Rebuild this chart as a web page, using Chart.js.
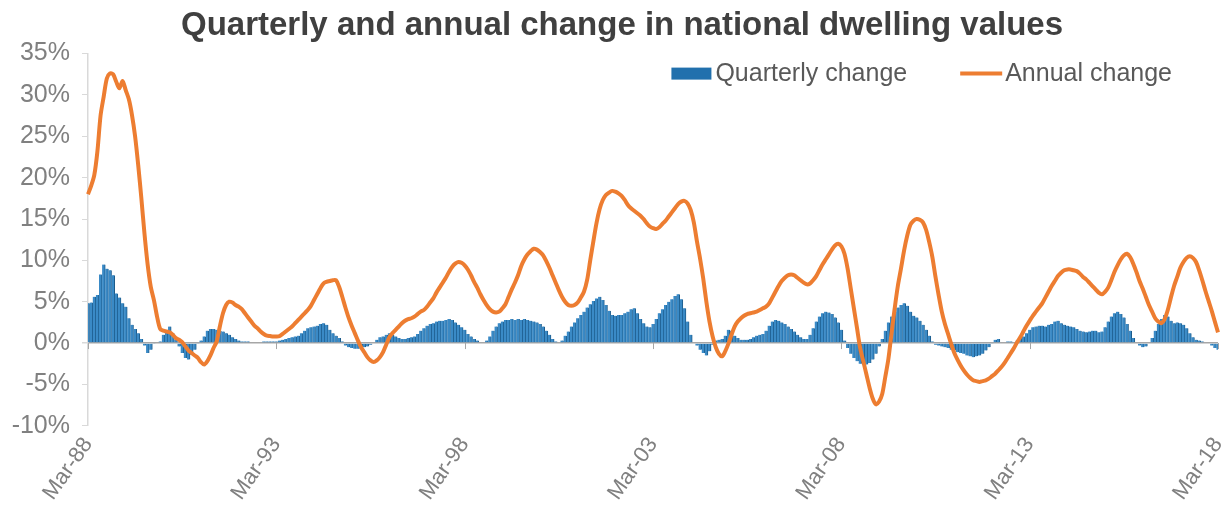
<!DOCTYPE html>
<html>
<head>
<meta charset="utf-8">
<title>Dwelling values</title>
<script src="https://cdn.jsdelivr.net/npm/chart.js@4.4.1/dist/chart.umd.min.js"></script>
<style>
  html, body { margin: 0; padding: 0; background: #ffffff; }
  #wrap { width: 1232px; height: 516px; }
</style>
</head>
<body>
<div id="wrap"><canvas id="dwellingChart"></canvas></div>
<script>
// monthly series, Mar-88 .. Mar-18 (one row per year, starting in March)
const annualChange = [
  18.0, 19.0, 20.3, 23.2, 27.5, 29.8, 32.0, 32.6, 32.5, 31.6, 30.8, 31.7,   // 88
  30.6, 29.5, 27.6, 25.0, 21.5, 17.5, 13.2, 9.5, 6.8, 5.2, 3.2, 1.7,        // 89
  1.5, 1.4, 1.3, 1.0, 0.6, 0.4, 0.1, -0.4, -0.9, -1.2, -1.5, -1.8,          // 90
  -2.3, -2.6, -2.2, -1.5, -0.6, 0.2, 2.0, 3.6, 4.6, 5.0, 4.9, 4.6,          // 91
  4.4, 4.1, 3.6, 3.1, 2.6, 2.1, 1.8, 1.4, 1.1, 0.9, 0.85, 0.8,              // 92
  0.8, 0.85, 1.1, 1.4, 1.7, 2.0, 2.4, 2.8, 3.2, 3.6, 4.0, 4.5,              // 93
  5.2, 5.9, 6.6, 7.2, 7.4, 7.5, 7.6, 7.6, 6.8, 5.6, 4.3, 3.1,               // 94
  2.1, 1.2, 0.3, -0.5, -1.1, -1.7, -2.1, -2.3, -2.1, -1.7, -1.1, -0.2,      // 95
  0.7, 1.2, 1.6, 2.0, 2.4, 2.7, 2.9, 3.0, 3.2, 3.5, 3.8, 4.0,               // 96
  4.4, 4.9, 5.4, 6.1, 6.7, 7.3, 7.9, 8.6, 9.2, 9.6, 9.8, 9.7,               // 97
  9.4, 8.9, 8.2, 7.4, 6.7, 5.9, 5.2, 4.6, 4.1, 3.8, 3.7, 3.8,               // 98
  4.2, 4.7, 5.6, 6.5, 7.3, 8.2, 9.3, 10.1, 10.7, 11.1, 11.4, 11.3,          // 99
  11.0, 10.6, 9.9, 9.1, 8.2, 7.3, 6.4, 5.6, 5.0, 4.6, 4.5, 4.6,             // 00
  4.9, 5.5, 6.2, 7.6, 10.0, 12.3, 14.5, 16.2, 17.3, 17.9, 18.2, 18.4,       // 01
  18.3, 18.1, 17.8, 17.3, 16.7, 16.3, 16.0, 15.7, 15.4, 15.0, 14.5, 14.1,   // 02
  13.9, 13.8, 14.0, 14.4, 14.8, 15.3, 15.8, 16.3, 16.8, 17.1, 17.2, 16.9,   // 03
  16.1, 14.6, 12.3, 10.2, 7.8, 5.0, 2.6, 0.8, -0.5, -1.3, -1.6, -1.0,       // 04
  -0.1, 1.0, 2.0, 2.6, 3.0, 3.3, 3.5, 3.6, 3.7, 3.8, 4.0, 4.2,              // 05
  4.4, 4.8, 5.5, 6.2, 6.9, 7.5, 7.9, 8.2, 8.3, 8.2, 7.9, 7.6,               // 06
  7.3, 7.1, 7.2, 7.6, 8.1, 8.8, 9.5, 10.1, 10.7, 11.3, 11.8, 12.0,          // 07
  11.7, 10.8, 9.0, 6.6, 4.2, 1.8, -0.6, -2.2, -3.8, -5.4, -6.7, -7.4,       // 08
  -7.1, -6.2, -4.1, -1.9, 1.2, 4.2, 6.9, 9.0, 11.2, 13.0, 14.3, 14.8,       // 09
  15.0, 14.9, 14.6, 13.7, 12.2, 10.4, 8.0, 5.8, 3.8, 2.3, 1.1, -0.1,        // 10
  -1.2, -2.0, -2.7, -3.3, -3.8, -4.2, -4.5, -4.6, -4.7, -4.6, -4.5, -4.3,   // 11
  -4.0, -3.7, -3.3, -2.9, -2.4, -1.8, -1.2, -0.6, 0.1, 0.7, 1.4, 2.1,       // 12
  2.7, 3.3, 3.8, 4.3, 4.8, 5.5, 6.2, 6.9, 7.5, 8.1, 8.5, 8.8,               // 13
  8.9, 8.9, 8.8, 8.7, 8.4, 8.0, 7.7, 7.3, 6.9, 6.5, 6.1, 5.9,               // 14
  6.2, 6.7, 7.6, 8.6, 9.4, 10.1, 10.6, 10.8, 10.4, 9.6, 8.6, 7.5,           // 15
  6.6, 5.6, 4.6, 3.8, 3.0, 2.6, 2.4, 2.9, 4.0, 5.5, 6.9, 8.0,               // 16
  9.1, 9.8, 10.3, 10.5, 10.3, 9.8, 8.8, 7.6, 6.3, 5.1, 3.9, 2.6,            // 17
  1.3                                                                       // Mar-18
];

const quarterlyChange = [
  4.8, 4.9, 5.6, 5.8, 8.3, 9.5, 9.0, 8.8, 8.2, 6.0, 5.5, 4.8,               // 88
  4.4, 3.0, 2.2, 1.7, 1.2, 0.5, -0.3, -1.2, -0.8, -0.1, 0.0, 0.2,           // 89
  1.0, 1.4, 2.0, 1.2, 0.4, -0.4, -1.2, -1.8, -2.0, -1.4, -0.8, -0.1,        // 90
  0.3, 0.8, 1.5, 1.7, 1.7, 1.6, 1.5, 1.4, 1.2, 1.0, 0.7, 0.5,               // 91
  0.3, 0.2, 0.2, 0.2, 0.1, 0.1, 0.1, 0.1, 0.2, 0.2, 0.2, 0.2,               // 92
  0.2, 0.3, 0.4, 0.5, 0.6, 0.7, 0.8, 0.9, 1.2, 1.5, 1.8, 1.9,               // 93
  2.0, 2.1, 2.3, 2.4, 2.2, 1.6, 1.2, 0.9, 0.6, 0.2, -0.3, -0.5,             // 94
  -0.6, -0.7, -0.7, -0.6, -0.5, -0.4, -0.2, 0.1, 0.4, 0.7, 0.8, 1.0,        // 95
  1.2, 1.0, 0.8, 0.6, 0.5, 0.5, 0.6, 0.7, 0.8, 1.1, 1.5, 1.8,               // 96
  2.1, 2.3, 2.4, 2.6, 2.7, 2.7, 2.8, 2.9, 2.8, 2.5, 2.2, 1.9,               // 97
  1.6, 1.1, 0.8, 0.5, 0.3, 0.1, 0.1, 0.3, 0.8, 1.5, 2.0, 2.4,               // 98
  2.6, 2.8, 2.8, 2.9, 2.8, 2.9, 2.8, 2.9, 2.8, 2.7, 2.6, 2.5,               // 99
  2.3, 2.0, 1.5, 1.0, 0.5, 0.2, 0.1, 0.3, 0.9, 1.4, 2.0, 2.5,               // 00
  3.0, 3.4, 3.8, 4.3, 4.7, 5.1, 5.4, 5.6, 5.2, 4.6, 3.9, 3.4,               // 01
  3.3, 3.4, 3.4, 3.6, 3.8, 4.1, 4.2, 3.6, 2.9, 2.4, 2.0, 1.9,               // 02
  2.3, 2.9, 3.6, 4.1, 4.6, 5.0, 5.3, 5.7, 5.9, 5.3, 4.2, 2.6,               // 03
  1.0, 0.1, -0.3, -0.8, -1.2, -1.5, -1.0, -0.2, 0.3, 0.4, 0.5, 0.9,         // 04
  1.6, 1.5, 0.9, 0.6, 0.4, 0.4, 0.4, 0.5, 0.7, 0.9, 1.0, 1.1,               // 05
  1.5, 2.1, 2.6, 2.8, 2.7, 2.5, 2.3, 2.0, 1.7, 1.4, 1.0, 0.7,               // 06
  0.5, 0.5, 1.0, 1.8, 2.6, 3.2, 3.6, 3.8, 3.7, 3.5, 3.1, 2.5,               // 07
  1.6, 0.3, -0.6, -1.3, -1.8, -2.2, -2.5, -2.6, -2.6, -2.4, -2.0, -1.3,     // 08
  -0.4, 0.5, 1.5, 2.5, 3.2, 3.8, 4.3, 4.6, 4.8, 4.5, 3.8, 3.3,              // 09
  3.1, 2.7, 2.2, 1.6, 0.9, 0.2, -0.2, -0.3, -0.4, -0.5, -0.6, -0.8,         // 10
  -0.9, -1.1, -1.2, -1.3, -1.5, -1.6, -1.7, -1.6, -1.5, -1.3, -0.9, -0.5,   // 11
  -0.1, 0.4, 0.5, 0.1, 0.1, 0.2, 0.2, 0.1, 0.3, 0.6, 0.8, 1.2,              // 12
  1.6, 1.9, 2.0, 2.1, 2.1, 2.0, 2.2, 2.3, 2.6, 2.7, 2.4, 2.2,               // 13
  2.1, 2.0, 1.9, 1.7, 1.5, 1.4, 1.3, 1.4, 1.5, 1.5, 1.3, 1.4,               // 14
  1.9, 2.6, 3.2, 3.6, 3.8, 3.5, 3.1, 2.3, 1.5, 0.6, 0.0, -0.3,              // 15
  -0.5, -0.4, 0.0, 0.6, 1.5, 2.3, 2.9, 3.4, 3.2, 2.7, 2.4, 2.5,             // 16
  2.4, 2.2, 1.8, 1.2, 0.7, 0.4, 0.3, 0.2, 0.1, 0.0, -0.3, -0.6,             // 17
  -0.8                                                                      // Mar-18
];

const tickLabels = ['Mar-88', 'Mar-93', 'Mar-98', 'Mar-03', 'Mar-08', 'Mar-13', 'Mar-18'];
const seriesNames = ['Quarterly change', 'Annual change'];
const monthNames = ['Jan', 'Feb', 'Mar', 'Apr', 'May', 'Jun', 'Jul', 'Aug', 'Sep', 'Oct', 'Nov', 'Dec'];

// month labels for the category axis, first one is Mar-88
const categories = [];
for (let i = 0; i < annualChange.length; i++) {
    const m = (2 + i) % 12;
    const yr = 1988 + Math.floor((2 + i) / 12);
    categories.push(monthNames[m] + '-' + String(yr).slice(2));
}

const FONT = '"Liberation Sans", Arial, Helvetica, sans-serif';
const BAR_FILL = '#3a8ac6';
const BAR_EDGE = '#1c5b8b';
const BAR_KEY = '#2170ad';
const LINE_COLOR = '#ed7d31';

// legend sits inside the plot, top right, like the spreadsheet version
const plotLegend = {
    id: 'plotLegend',
    afterDraw(chart) {
        const { ctx, chartArea } = chart;
        ctx.save();
        ctx.font = '25px ' + FONT;
        ctx.textBaseline = 'middle';
        const y = chartArea.top + 20;
        const w1 = ctx.measureText(seriesNames[0]).width;
        const w2 = ctx.measureText(seriesNames[1]).width;
        let x = chartArea.right - 46 - (40 + 4 + w1 + 53 + 42 + 3 + w2);

        ctx.fillStyle = BAR_KEY;
        ctx.fillRect(x, y - 6, 40, 12);
        x += 44;
        ctx.fillStyle = '#595959';
        ctx.fillText(seriesNames[0], x, y + 1);
        x += w1 + 53;

        ctx.strokeStyle = LINE_COLOR;
        ctx.lineWidth = 4;
        ctx.beginPath();
        ctx.moveTo(x, y);
        ctx.lineTo(x + 42, y);
        ctx.stroke();
        x += 45;
        ctx.fillText(seriesNames[1], x, y + 1);
        ctx.restore();
    }
};

// small tick marks hanging off the zero line at each labelled month
const zeroTicks = {
    id: 'zeroTicks',
    beforeDatasetsDraw(chart) {
        const { ctx, scales } = chart;
        const y0 = scales.y.getPixelForValue(0);
        ctx.save();
        ctx.strokeStyle = '#a6a6a6';
        ctx.lineWidth = 1;
        tickLabels.forEach(lbl => {
            const idx = categories.indexOf(lbl);
            if (idx < 0) return;
            const x = Math.round(scales.x.getPixelForValue(idx)) + 0.5;
            ctx.beginPath();
            ctx.moveTo(x, y0);
            ctx.lineTo(x, y0 + 6);
            ctx.stroke();
        });
        ctx.restore();
    }
};

const ctx = document.getElementById('dwellingChart').getContext('2d');
new Chart(ctx, {
    type: 'bar',
    data: {
        labels: categories,
        datasets: [
            {
                type: 'line',
                label: seriesNames[1],
                data: annualChange,
                borderColor: LINE_COLOR,
                borderWidth: 4,
                pointRadius: 0,
                tension: 0.3,
                order: 0
            },
            {
                type: 'bar',
                label: seriesNames[0],
                data: quarterlyChange,
                backgroundColor: BAR_FILL,
                borderColor: BAR_EDGE,
                borderWidth: { left: 0, right: 1, top: 0, bottom: 0 },
                barPercentage: 1,
                categoryPercentage: 1,
                order: 1
            }
        ]
    },
    options: {
        responsive: true,
        maintainAspectRatio: false,
        animation: false,
        layout: { padding: { left: 12, right: 0, top: 0, bottom: 4 } },
        plugins: {
            legend: { display: false },
            tooltip: { enabled: false },
            title: {
                display: true,
                text: 'Quarterly and annual change in national dwelling values',
                color: '#404040',
                font: { family: FONT, size: 33, weight: 'bold' },
                padding: { top: 6, bottom: 8 }
            }
        },
        scales: {
            x: {
                offset: false,
                grid: { display: false, drawTicks: false },
                border: { display: false },
                ticks: {
                    autoSkip: false,
                    maxRotation: 55,
                    minRotation: 55,
                    padding: 7,
                    color: '#808080',
                    font: { family: FONT, size: 22 },
                    callback: function (value) {
                        const lbl = this.getLabelForValue(value);
                        return tickLabels.includes(lbl) ? lbl : null;
                    }
                },
                // rotated labels hang below/left of their ticks; keep a small gap on the right
                afterFit: scale => {
                    scale.paddingLeft = 0;
                    scale.paddingRight = 14;
                }
            },
            y: {
                min: -10,
                max: 35,
                ticks: {
                    stepSize: 5,
                    padding: 12,
                    color: '#808080',
                    font: { family: FONT, size: 25 },
                    callback: v => v + '%'
                },
                grid: {
                    color: c => (c.tick && c.tick.value === 0) ? '#a6a6a6' : 'rgba(0,0,0,0)',
                    lineWidth: c => (c.tick && c.tick.value === 0) ? 1.5 : 1,
                    tickColor: '#d9d9d9',
                    tickLength: 6
                },
                border: { color: '#d9d9d9', width: 1.5 },
                // tick + padding + widest label, without the extra outer padding
                afterFit: scale => { scale.width = 76; }
            }
        }
    },
    plugins: [zeroTicks, plotLegend]
});
</script>
</body>
</html>
